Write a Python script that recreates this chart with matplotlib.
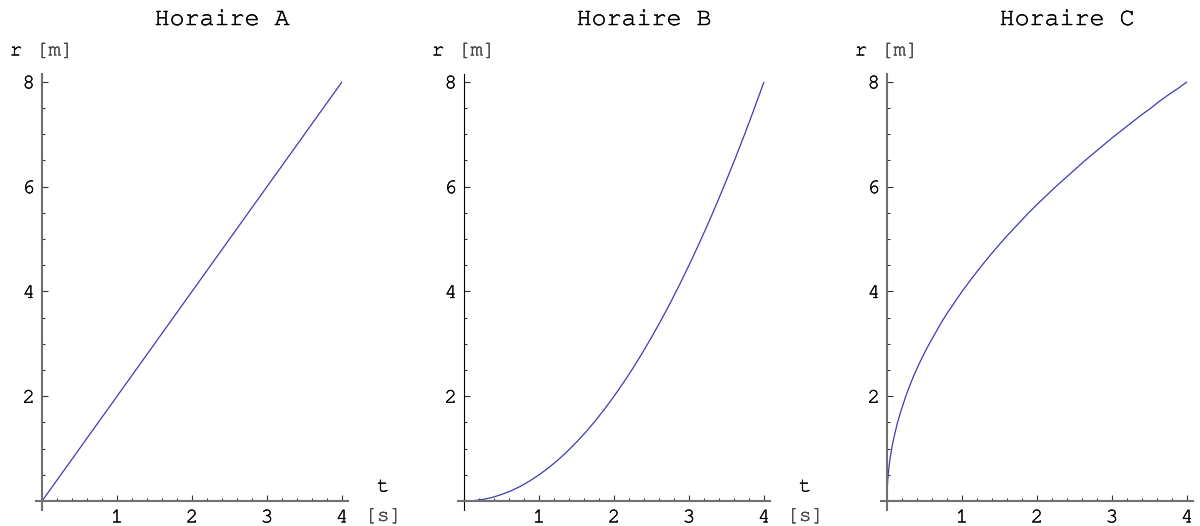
import numpy as np
import matplotlib
matplotlib.use("Agg")
import matplotlib.pyplot as plt
import matplotlib.patheffects as pe
from matplotlib.ticker import MultipleLocator, FixedLocator

MONO = ["Courier New", "Nimbus Mono PS", "FreeMono", "Liberation Mono"]

# time / position samples for the three motions
t_A = [0.0, 4.0]
r_A = [0.0, 8.0]

t_B = [0.0, 0.125, 0.25, 0.375, 0.5, 0.625, 0.75, 0.875, 1.0, 1.125, 1.25,
       1.375, 1.5, 1.625, 1.75, 1.875, 2.0, 2.125, 2.25, 2.375, 2.5, 2.625,
       2.75, 2.875, 3.0, 3.125, 3.25, 3.375, 3.5, 3.625, 3.75, 3.875, 4.0]
r_B = [0.0, 0.008, 0.03, 0.07, 0.125, 0.195, 0.28, 0.383, 0.5, 0.633, 0.78,
       0.945, 1.125, 1.32, 1.53, 1.758, 2.0, 2.258, 2.53, 2.82, 3.125, 3.445,
       3.78, 4.133, 4.5, 4.883, 5.28, 5.695, 6.125, 6.57, 7.03, 7.508, 8.0]

t_C = [0.0, 0.003, 0.005, 0.01, 0.015, 0.025, 0.035, 0.05, 0.075, 0.1,
       0.135, 0.175, 0.25, 0.3, 0.35, 0.425, 0.5, 0.575, 0.65, 0.725, 0.8,
       0.9, 1.0, 1.125, 1.25, 1.375, 1.5, 1.625, 1.75, 1.875, 2.0, 2.125,
       2.25, 2.375, 2.5, 2.625, 2.75, 2.875, 3.0, 3.125, 3.25, 3.375, 3.5,
       3.625, 3.75, 3.875, 4.0]
r_C = [0.0, 0.22, 0.28, 0.4, 0.49, 0.63, 0.75, 0.89, 1.1, 1.26,
       1.47, 1.67, 2.0, 2.19, 2.37, 2.61, 2.83, 3.03, 3.22, 3.41, 3.58,
       3.79, 4.0, 4.24, 4.47, 4.69, 4.9, 5.1, 5.29, 5.48, 5.66, 5.83,
       6.0, 6.16, 6.32, 6.48, 6.63, 6.78, 6.93, 7.07, 7.21, 7.35, 7.48,
       7.62, 7.75, 7.87, 8.0]

titles = ["Horaire A", "Horaire B", "Horaire C"]
x_major = [1, 2, 3, 4]
y_major = [2, 4, 6, 8]

W, H = 1200, 526
fig = plt.figure(figsize=(W / 100, H / 100), dpi=100)


def heavy(color):
    # thicken the thin Courier strokes a little
    return [pe.withStroke(linewidth=0.25, foreground=color)]


panels = [(t_A, r_A, 36), (t_B, r_B, 458), (t_C, r_C, 881)]
for i, (t, r, left_px) in enumerate(panels):
    ax = fig.add_axes([left_px / W, 16 / H, 312 / W, 436 / H])
    ax.set_xlim(-0.08, 4.08)
    ax.set_ylim(-0.17, 8.15)
    ax.patch.set_visible(False)

    ax.plot(t, r, color="#3c3cb4", lw=0.9, solid_capstyle="butt", clip_on=False)

    for s in ["top", "right"]:
        ax.spines[s].set_visible(False)
    ax.spines["left"].set_position(("data", 0))
    ax.spines["bottom"].set_position(("data", 0))
    ax.spines["bottom"].set_color("#707070")
    ax.spines["bottom"].set_linewidth(1.5)
    if i == 1:
        ax.spines["left"].set_color("black")
        ax.spines["left"].set_linewidth(0.8)
    else:
        ax.spines["left"].set_color("#707070")
        ax.spines["left"].set_linewidth(1.5)

    ax.xaxis.set_major_locator(FixedLocator(x_major))
    ax.yaxis.set_major_locator(FixedLocator(y_major))
    ax.xaxis.set_minor_locator(MultipleLocator(0.2))
    ax.yaxis.set_minor_locator(MultipleLocator(0.5))
    ax.tick_params(which="both", direction="in", color="#333333", width=0.8)
    ax.tick_params(axis="x", which="major", length=4.5, pad=6, labelsize=15)
    ax.tick_params(axis="x", which="minor", length=2.5)
    ax.tick_params(axis="y", which="major", length=4.5, pad=5, labelsize=15)
    ax.tick_params(axis="y", which="minor", length=2.5)
    for lab in ax.get_xticklabels() + ax.get_yticklabels():
        lab.set_family(MONO)
        lab.set_path_effects(heavy("black"))

    ax.text(2.4, 9.18, titles[i], ha="center", va="center",
            fontsize=18, family=MONO, clip_on=False, path_effects=heavy("black"))
    ax.text(-0.43, 8.59, "r", ha="left", va="center",
            fontsize=15, family=MONO, clip_on=False, path_effects=heavy("black"))
    ax.text(0.17, 8.59, "[m]", ha="center", va="center",
            fontsize=15, family=MONO, color="#444444", clip_on=False,
            path_effects=heavy("#444444"))
    if i < 2:
        ax.text(4.55, 0.27, "t", ha="center", va="center",
                fontsize=15, family=MONO, clip_on=False,
                path_effects=heavy("black"))
        ax.text(4.55, -0.29, "[s]", ha="center", va="center",
                fontsize=15, family=MONO, color="#444444", clip_on=False,
                path_effects=heavy("#444444"))

fig.savefig("out.png", dpi=100)
